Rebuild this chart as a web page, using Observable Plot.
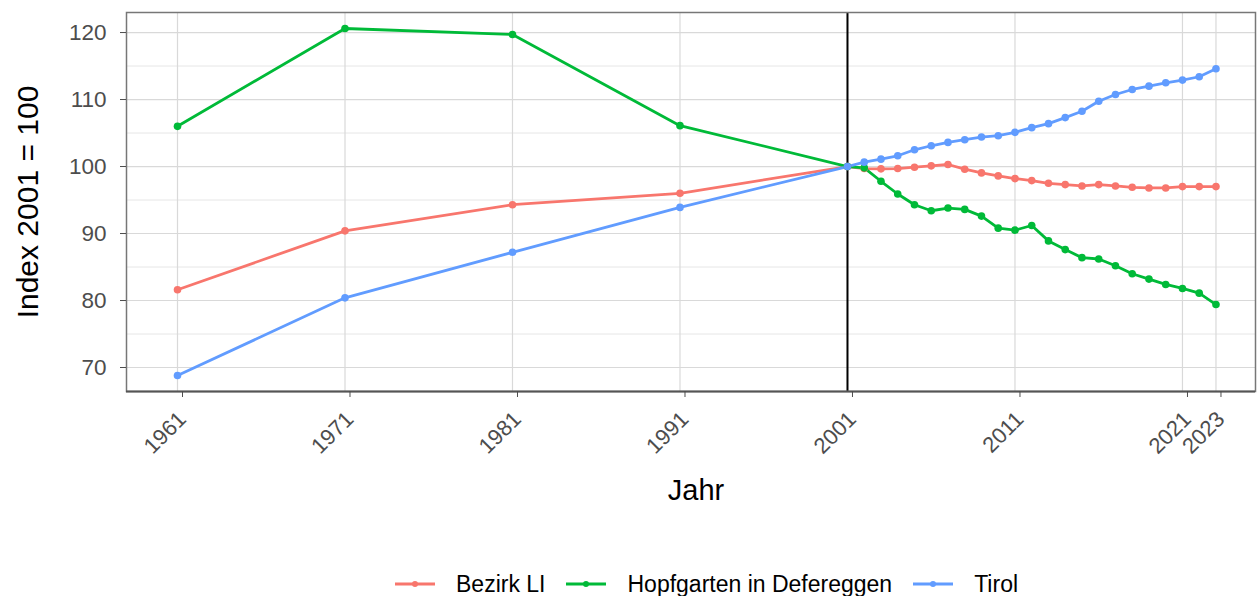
<!DOCTYPE html>
<html><head><meta charset="utf-8">
<script src="https://cdn.jsdelivr.net/npm/d3@7"></script>
<script src="https://cdn.jsdelivr.net/npm/@observablehq/plot@0.6"></script>
<style>
body{margin:0;background:#fff;font-family:"Liberation Sans",Arial,sans-serif;}
#chart svg{display:block;}
#legend{position:relative;height:36px;display:flex;align-items:center;padding-left:395px;padding-top:12px;box-sizing:border-box;}
.item{display:flex;align-items:center;margin-right:21px;}
.item svg{display:block;margin-right:21px;}
.item span{font-size:23px;color:#000;line-height:23px;}
</style></head><body><div id="chart"></div><div id="legend"></div>
<script>
// --- data ---
const years = [1961,1971,1981,1991,2001,2002,2003,2004,2005,2006,2007,2008,2009,2010,2011,2012,2013,2014,2015,2016,2017,2018,2019,2020,2021,2022,2023];
const bezirkLI = [81.6,90.4,94.3,96.0,100,99.7,99.65,99.7,99.9,100.1,100.3,99.6,99.05,98.6,98.2,97.9,97.5,97.3,97.1,97.3,97.1,96.9,96.8,96.8,97.0,97.0,97.0];
const hopfgarten = [106.0,120.6,119.7,106.1,100,99.8,97.8,95.9,94.3,93.4,93.8,93.6,92.6,90.8,90.5,91.2,88.9,87.6,86.4,86.2,85.2,84.0,83.2,82.4,81.8,81.1,79.4];
const tirol = [68.8,80.4,87.2,93.9,100,100.65,101.1,101.6,102.5,103.1,103.6,104.0,104.4,104.6,105.1,105.8,106.4,107.3,108.25,109.75,110.75,111.5,112.0,112.5,112.9,113.4,114.6];
const seriesNames = ["Bezirk LI","Hopfgarten in Defereggen","Tirol"];
const seriesColors = ["#F8766D","#00BA38","#619CFF"];
const xBreaks = [1961,1971,1981,1991,2001,2011,2021,2023];
const yBreaks = [70,80,90,100,110,120];
const yMinor = [75,85,95,105,115];
const refYear = [2001];

const seriesValues = [bezirkLI, hopfgarten, tirol];
const data = [];
seriesNames.forEach((s, i) => years.forEach((y, j) => data.push({series: s, year: y, value: seriesValues[i][j]})));

const W = 1257, H = 560;
const font = '"Liberation Sans", Arial, sans-serif';
const chart = Plot.plot({
  width: W, height: H,
  marginLeft: 126, marginRight: 2, marginTop: 12, marginBottom: H - 391,
  style: {fontFamily: font, background: "#fff", overflow: "visible"},
  x: {domain: [1957.955, 2025.36]},
  y: {domain: [66.42, 122.99]},
  color: {domain: seriesNames, range: seriesColors},
  marks: [
    Plot.gridY(yMinor, {stroke: "#e6e6e6", strokeOpacity: 1, strokeWidth: 1}),
    Plot.gridY(yBreaks, {stroke: "#d9d9d9", strokeOpacity: 1, strokeWidth: 1.2}),
    Plot.gridX(xBreaks, {stroke: "#d9d9d9", strokeOpacity: 1, strokeWidth: 1.2}),
    Plot.ruleX(refYear, {stroke: "black", strokeWidth: 2}),
    Plot.line(data, {x: "year", y: "value", z: "series", stroke: "series", strokeWidth: 2.8}),
    Plot.dot(data, {x: "year", y: "value", fill: "series", r: 3.8}),
    Plot.frame({stroke: "#777", strokeWidth: 1.5}),
    Plot.ruleY([66.42], {stroke: "#555", strokeWidth: 2}),
    Plot.axisY(yBreaks, {tickSize: 6, tickPadding: 14, fontSize: 22.5, color: "#4d4d4d", label: null}),
    Plot.axisX(xBreaks, {tickSize: 6, tickPadding: 18, dx: 5, tickRotate: -45, tickFormat: d => String(d), fontSize: 22, color: "#4d4d4d", label: null}),
    Plot.text(["Index 2001 = 100"], {frameAnchor: "left", textAnchor: "middle", dx: -98, rotate: -90, fontSize: 30, fill: "black", text: d => d}),
    Plot.text(["Jahr"], {frameAnchor: "bottom", dy: 108, dx: 5, fontSize: 29, fill: "black", text: d => d})
  ]
});
document.getElementById("chart").appendChild(chart);

const legend = document.getElementById("legend");
seriesNames.forEach((s, i) => {
  const item = document.createElement("div");
  item.className = "item";
  item.innerHTML = `<svg width="40" height="12"><line x1="0" x2="40" y1="6" y2="6" stroke="${seriesColors[i]}" stroke-width="3"/><circle cx="20" cy="6" r="3" fill="${seriesColors[i]}"/></svg><span>${s}</span>`;
  legend.appendChild(item);
});
</script>
</body></html>
